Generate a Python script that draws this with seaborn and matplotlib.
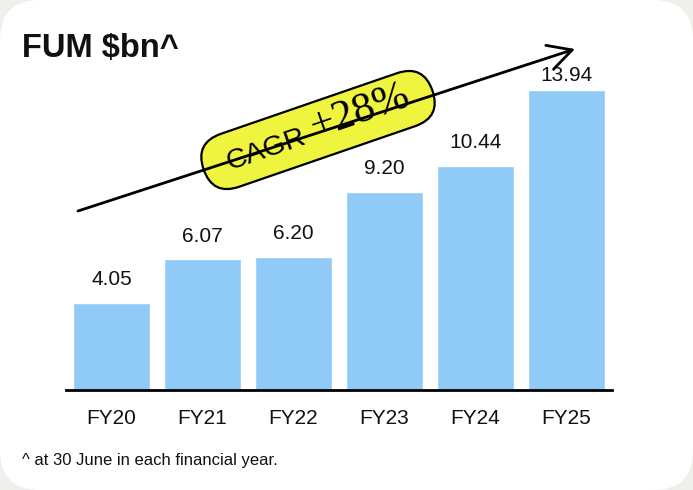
import numpy as np
import pandas as pd
import matplotlib
matplotlib.use("Agg")
import matplotlib.pyplot as plt
import seaborn as sns
from matplotlib.patches import FancyBboxPatch
from matplotlib.transforms import Affine2D

# Veri
yillar = ['FY20', 'FY21', 'FY22', 'FY23', 'FY24', 'FY25']
fum = [4.05, 6.07, 6.20, 9.20, 10.44, 13.94]
baslik = 'FUM $bn^'
dipnot = '^ at 30 June in each financial year.'
cagr_yazi = 'CAGR'
cagr_deger = '+28%'

df = pd.DataFrame({'Yil': yillar, 'FUM': fum})

sns.set_style("white")
plt.rcParams['font.family'] = ['Liberation Sans', 'DejaVu Sans']

W, H = 693, 490
fig = plt.figure(figsize=(W / 100, H / 100), dpi=100, facecolor='#efefeb')

# arka plan kartı (piksel koordinatları)
bg = fig.add_axes([0, 0, 1, 1], zorder=0)
bg.set_xlim(0, W)
bg.set_ylim(H, 0)
bg.axis('off')
bg.add_patch(FancyBboxPatch((0, 0), W, H, boxstyle="round,pad=0,rounding_size=40",
                            facecolor='white', edgecolor='none'))

# çubuk grafik
ax = fig.add_axes([66 / W, 100 / H, 546 / W, 344 / H], zorder=1)
ax.patch.set_alpha(0)
sns.barplot(data=df, x='Yil', y='FUM', color='#90caf7', width=0.85,
            saturation=1, ax=ax)
ax.set_xlim(-0.5, 5.5)
ax.set_ylim(0, 16)
ax.set_xlabel('')
ax.set_ylabel('')
ax.set_yticks([])
for s in ['left', 'right', 'top']:
    ax.spines[s].set_visible(False)
ax.spines['bottom'].set_linewidth(2)
ax.spines['bottom'].set_color('black')
ax.tick_params(axis='x', length=0, pad=14, labelsize=15, colors='#111111')

for i, v in enumerate(fum):
    pad = 4 if i == len(fum) - 1 else 10
    ax.annotate(f"{v:.2f}", (i, v), xytext=(0, pad), textcoords='offset points',
                ha='center', va='bottom', fontsize=15, color='#111111')

# ön katman: ok ve CAGR etiketi
fg = fig.add_axes([0, 0, 1, 1], zorder=3)
fg.patch.set_alpha(0)
fg.set_xlim(0, W)
fg.set_ylim(H, 0)
fg.axis('off')

fg.annotate('', xy=(575, 49), xytext=(78, 211),
            arrowprops=dict(arrowstyle='->,head_length=0.85,head_width=0.45',
                            mutation_scale=20, lw=2, color='black',
                            shrinkA=0, shrinkB=0))

aci = 19
cx, cy = 318, 130
L, h = 242, 56
hap = FancyBboxPatch((cx - L / 2, cy - h / 2), L, h,
                     boxstyle=f"round,pad=0,rounding_size={h / 2}",
                     facecolor='#eff53e', edgecolor='black', lw=1.6)
hap.set_transform(Affine2D().rotate_deg_around(cx, cy, -aci) + fg.transData)
fg.add_patch(hap)

ux, uy = np.cos(np.radians(aci)), -np.sin(np.radians(aci))
fg.text(cx - 55 * ux, cy - 55 * uy + 2, cagr_yazi, rotation=aci, rotation_mode='anchor',
        ha='center', va='center', fontsize=20.5, color='black')
fg.text(cx + 45 * ux, cy + 45 * uy - 4, cagr_deger, rotation=aci, rotation_mode='anchor',
        ha='center', va='center', fontsize=31, color='black',
        family=['Liberation Serif', 'DejaVu Serif'])

# başlık ve dipnot
fig.text(22 / W, 1 - 48 / H, baslik, fontsize=23.5, fontweight='bold',
         ha='left', va='center', color='#111111')
fig.text(22 / W, 1 - 460 / H, dipnot, fontsize=12, ha='left', va='center',
         color='#111111')

fig.savefig('out.png', dpi=100, facecolor=fig.get_facecolor())
